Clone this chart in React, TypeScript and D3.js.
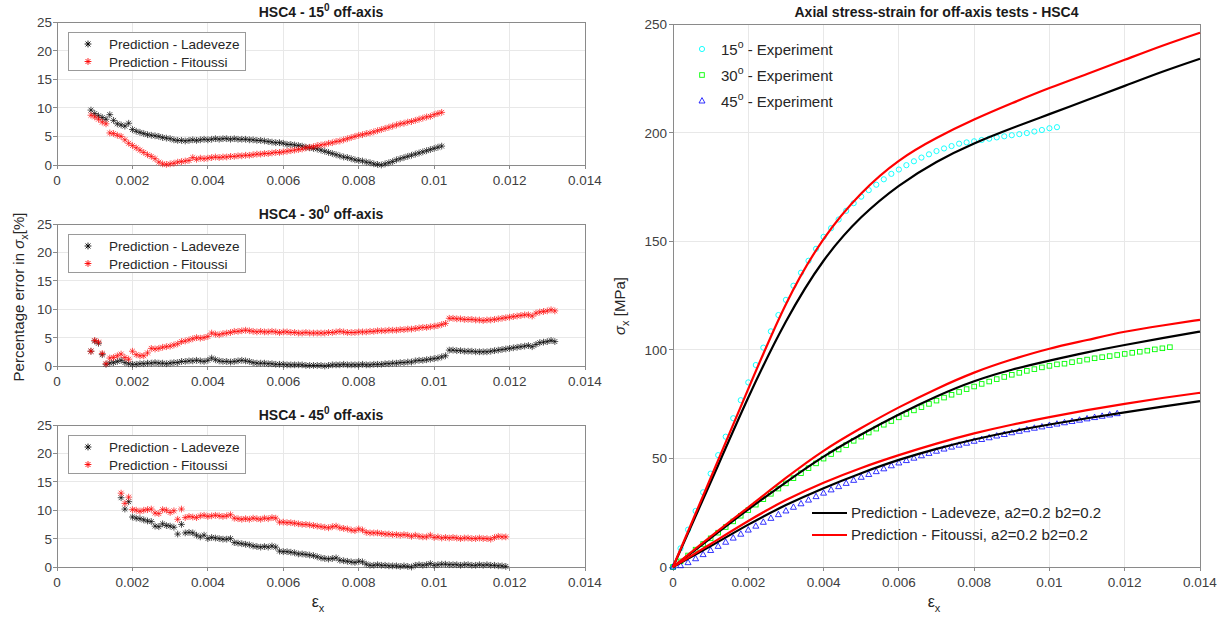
import React from 'react';
import * as d3 from 'd3';

const FONT = "'Liberation Sans', Arial, Helvetica, sans-serif";

// ---------- Percentage-error panels (step 0.0001 in strain) ----------
const ERR_STEP = 0.0001;
const start15 = 0.0009;
const start30 = 0.0009;
const start45 = 0.0017;

const lad15 = [9.6,9.0,8.6,8.3,8.0,8.8,7.8,7.2,7.0,6.8,
 7.3,6.2,5.9,5.7,5.5,5.3,5.2,5.1,5.0,4.8,
 4.7,4.6,4.4,4.3,4.3,4.2,4.3,4.4,4.3,4.4,
 4.5,4.4,4.5,4.6,4.5,4.6,4.6,4.5,4.6,4.5,
 4.5,4.5,4.4,4.4,4.3,4.3,4.2,4.1,4.0,3.9,
 3.9,3.8,3.6,3.6,3.5,3.4,3.3,3.1,3.0,2.9,
 2.8,2.6,2.4,2.2,2.0,1.8,1.6,1.4,1.3,1.1,
 0.9,0.8,0.7,0.5,0.4,0.2,0.1,0.0,0.2,0.4,
 0.6,0.9,1.1,1.3,1.5,1.7,1.9,2.1,2.3,2.5,
 2.7,2.9,3.1,3.3];
const fit15 = [8.7,8.4,8.0,7.5,7.2,5.6,5.5,5.2,5.0,4.4,
 3.8,3.4,3.0,2.6,2.2,1.8,1.5,1.1,0.5,0.2,
 0.1,0.2,0.3,0.5,0.6,0.7,0.8,1.3,1.0,1.2,
 1.1,1.2,1.3,1.4,1.3,1.4,1.4,1.5,1.5,1.6,
 1.6,1.7,1.7,1.8,1.9,1.9,2.0,2.0,2.1,2.2,
 2.2,2.3,2.4,2.5,2.6,2.7,2.8,3.0,3.1,3.2,
 3.4,3.5,3.6,3.8,3.9,4.1,4.2,4.4,4.6,4.8,
 5.0,5.2,5.3,5.5,5.6,5.8,6.0,6.2,6.4,6.6,
 6.8,7.0,7.2,7.3,7.5,7.6,7.8,8.0,8.2,8.4,
 8.5,8.8,9.0,9.2];
const lad30 = [2.6,4.4,4.0,2.0,0.3,0.5,0.6,0.8,1.0,0.6,
 0.4,0.3,0.3,0.4,0.4,0.5,0.5,0.6,0.5,0.5,
 0.4,0.5,0.6,0.6,0.8,0.8,0.9,0.9,1.0,0.9,
 0.8,1.0,1.4,1.1,0.9,0.8,0.8,0.7,0.8,0.9,
 1.0,0.9,0.8,0.6,0.5,0.5,0.5,0.4,0.4,0.3,
 0.3,0.3,0.2,0.2,0.2,0.2,0.2,0.1,0.1,0.1,
 0.1,0.1,0.0,0.1,0.2,0.2,0.2,0.3,0.2,0.2,
 0.2,0.2,0.3,0.2,0.2,0.3,0.3,0.3,0.4,0.4,
 0.5,0.5,0.6,0.6,0.7,0.7,0.9,1.0,1.0,1.1,
 1.2,1.3,1.4,1.6,1.8,2.8,2.8,2.7,2.7,2.6,
 2.6,2.6,2.5,2.5,2.5,2.5,2.6,2.7,2.8,2.9,
 3.0,3.1,3.2,3.3,3.4,3.5,3.6,3.4,3.8,4.1,
 4.2,4.3,4.5,4.3];
const fit30 = [2.6,4.5,4.2,2.2,0.4,1.4,1.5,1.8,2.1,1.5,
 1.2,2.6,2.0,1.8,1.8,2.3,3.1,3.0,3.1,3.3,
 3.4,3.5,3.7,3.9,4.3,4.4,4.6,4.8,5.0,4.9,
 5.0,5.2,5.8,5.6,5.5,5.7,5.8,5.9,6.1,6.1,
 6.2,6.3,6.2,6.1,6.0,6.1,6.0,6.0,6.1,6.0,
 5.9,6.0,6.0,5.9,5.9,5.8,5.8,5.9,5.8,5.8,
 5.8,5.8,5.8,5.9,5.9,6.0,6.1,6.0,5.9,5.9,
 5.9,6.0,6.0,6.0,6.1,6.1,6.2,6.2,6.2,6.3,
 6.3,6.3,6.4,6.4,6.5,6.5,6.6,6.7,6.8,6.8,
 6.9,7.0,7.1,7.3,7.5,8.4,8.4,8.3,8.3,8.2,
 8.2,8.2,8.1,8.1,8.0,8.1,8.1,8.2,8.3,8.4,
 8.5,8.6,8.7,8.8,8.9,9.0,9.0,8.8,9.3,9.5,
 9.6,9.7,9.9,9.7];
const lad45 = [12.2,10.2,11.5,8.8,8.6,8.5,8.3,8.1,8.0,7.2,
 7.1,7.6,7.3,7.2,7.0,5.8,7.5,6.0,6.1,6.0,
 5.6,5.3,5.6,5.0,5.2,5.1,5.0,4.9,4.9,5.0,
 4.3,4.2,4.1,4.0,3.9,3.7,3.6,3.5,3.6,3.5,
 3.7,3.5,2.8,2.7,2.7,2.6,2.5,2.3,2.3,2.2,
 2.1,2.0,1.8,1.6,1.5,1.4,1.5,1.6,1.2,1.1,
 1.0,0.9,0.8,1.0,0.9,0.5,0.3,0.3,0.4,0.3,
 0.3,0.2,0.2,0.2,0.1,0.2,0.1,0.0,0.3,0.4,
 0.3,0.4,0.6,0.3,0.4,0.5,0.5,0.4,0.4,0.4,
 0.3,0.4,0.4,0.3,0.3,0.4,0.3,0.4,0.3,0.3,
 0.2,0.2,0.1];
const fit45 = [13.0,11.2,12.3,10.1,10.0,9.8,10.0,10.1,10.2,9.5,
 9.4,10.1,10.0,9.6,9.9,8.4,10.2,8.7,8.9,8.8,
 8.7,9.0,9.1,8.9,9.0,9.1,9.0,8.9,9.0,9.2,
 8.6,8.5,8.4,8.5,8.4,8.6,8.5,8.4,8.6,8.5,
 8.7,8.6,7.9,7.9,7.8,7.8,7.7,7.6,7.5,7.5,
 7.4,7.3,7.2,7.1,7.0,6.9,7.1,7.2,6.9,6.8,
 6.7,6.5,6.4,6.7,6.5,6.1,6.0,6.0,6.0,5.9,
 5.8,5.8,5.7,5.7,5.6,5.7,5.6,5.4,5.6,5.4,
 5.3,5.3,5.6,5.2,5.3,5.1,5.2,5.1,5.2,5.1,
 5.0,5.1,5.1,5.0,5.0,5.1,5.0,5.0,4.9,5.2,
 5.4,5.3,5.3];

// ---------- Stress-strain panel ----------
const EXP_STEP = 0.0002;
const exp15 = [0,8.6,17.2,25.8,34.4,43,51.5,60,68.5,76.8,
 85,93,101,108.5,116,123,129.5,135.5,141,146.5,
 152,156,160,164,167.5,170.5,173.5,176,178.5,181,
 183,185,186.8,188.5,190,191.5,192.7,193.8,194.9,195.5,
 196,196.6,197.2,197.8,198.3,198.8,199.3,199.8,200.5,201.2,
 202,202.5];
const exp30 = [0,2.6,5.3,8,10.6,13.2,15.8,18.4,21,23.6,
 26.2,28.7,31.2,33.7,36.1,38.5,40.9,43.2,45.5,47.7,
 49.9,52,54.1,56.1,58.1,60,61.9,63.7,65.5,67.2,
 68.9,70.5,72.1,73.6,75.1,76.6,78,79.3,80.6,81.9,
 83.1,84.3,85.4,86.5,87.5,88.5,89.4,90.3,91.1,91.9,
 92.6,93.3,93.6,94.3,94.9,95.5,96.1,96.6,97.1,97.6,
 98.1,98.6,99.1,99.6,100.2,100.7,101.2];
const exp45 = [0,0.6,2.0,3.8,5.7,7.6,9.5,11.4,13.3,15.1,
 17.0,18.8,20.6,22.4,24.1,25.8,27.5,29.1,30.8,32.4,
 34.0,35.5,37.0,38.5,39.9,41.3,42.6,43.9,45.2,46.6,
 47.9,49.0,50.1,51.2,52.3,53.3,54.3,55.2,56.1,57.0,
 57.9,58.7,59.5,60.3,61.0,61.8,62.5,63.2,63.9,64.5,
 65.2,65.8,66.4,67.0,67.6,68.2,68.8,69.4,70.0,70.6];

const predStrain = [0,0.001,0.002,0.003,0.004,0.005,0.006,0.007,0.008,0.009,0.010,0.011,0.012,0.013,0.014];
const ladCurve15 = [0,39,78,113,141,161,175.5,186.5,195,202,208.5,215,221.5,228,234];
const fitCurve15 = [0,41,82,121,151,172,187,197.5,206,213.5,220.5,227,233.5,240,246];
const ladCurve30 = [0,13.3,26.5,39,50.8,61,70.2,78.5,85.5,90.8,95,98.8,102.2,105.4,108.4];
const fitCurve30 = [0,14,27.5,41,53.5,64,73.5,82,89.5,95.5,100.5,104.5,108.3,111.2,113.8];
const ladCurve45 = [0,9.6,19.5,28.5,36.3,43.2,49.3,54.4,58.7,62.4,65.6,68.5,71.2,73.8,76.4];
const fitCurve45 = [0,10.6,21.2,30.8,38.8,45.6,51.5,56.8,61.5,65.5,69.0,72.2,75.1,77.8,80.2];

// ---------- Ticks ----------
const strainTicks = [0,0.002,0.004,0.006,0.008,0.010,0.012,0.014];
const strainTickLabels = ['0','0.002','0.004','0.006','0.008','0.01','0.012','0.014'];
const errTicks = [0,5,10,15,20,25];
const stressTicks = [0,50,100,150,200,250];

const errLegend = ['Prediction - Ladeveze','Prediction - Fitoussi'];
const expLegendAngles = ['15','30','45'];
const predLegend = ['Prediction - Ladeveze, a2=0.2 b2=0.2','Prediction - Fitoussi, a2=0.2 b2=0.2'];

// ---------- Styling ----------
const AXIS = '#8a8a8a';
const GRID = '#e8e8e8';
const TXT = '#404040';
const L_LEFT = 57, L_RIGHT = 585;
const R_LEFT = 673, R_RIGHT = 1200, R_TOP = 24, R_BOTTOM = 567;

function asterisk(s: number) {
  const d = s * 0.72;
  return `M${-s},0L${s},0M0,${-s}L0,${s}M${-d},${-d}L${d},${d}M${-d},${d}L${d},${-d}`;
}

function ErrorPanel({ angle, top, bottom, start, lad, fit }:
  { angle: string; top: number; bottom: number; start: number; lad: number[]; fit: number[] }) {
  const x = d3.scaleLinear().domain([0, 0.014]).range([L_LEFT, L_RIGHT]);
  const y = d3.scaleLinear().domain([0, 25]).range([bottom, top]);
  const xsL = d3.range(lad.length).map(i => start + i * ERR_STEP);
  const xsF = d3.range(fit.length).map(i => start + i * ERR_STEP);
  const star = asterisk(3.4);
  const cx = (L_LEFT + L_RIGHT) / 2;
  return (
    <g>
      {strainTicks.map(t => (
        <line key={'gx' + t} x1={x(t)} x2={x(t)} y1={top} y2={bottom} stroke={GRID} shapeRendering="crispEdges" />
      ))}
      {errTicks.map(t => (
        <line key={'gy' + t} x1={L_LEFT} x2={L_RIGHT} y1={y(t)} y2={y(t)} stroke={GRID} shapeRendering="crispEdges" />
      ))}
      <rect x={L_LEFT} y={top} width={L_RIGHT - L_LEFT} height={bottom - top} fill="none" stroke={AXIS} shapeRendering="crispEdges" />
      {strainTicks.map((t, i) => (
        <g key={'tx' + t}>
          <line x1={x(t)} x2={x(t)} y1={bottom} y2={bottom + 4} stroke={AXIS} shapeRendering="crispEdges" />
          <text x={x(t)} y={bottom + 20} textAnchor="middle" fontSize={13.5} fill={TXT}>{strainTickLabels[i]}</text>
        </g>
      ))}
      {errTicks.map(t => (
        <g key={'ty' + t}>
          <line x1={L_LEFT - 4} x2={L_LEFT} y1={y(t)} y2={y(t)} stroke={AXIS} shapeRendering="crispEdges" />
          <text x={L_LEFT - 5} y={y(t) + 5} textAnchor="end" fontSize={13.5} fill={TXT}>{t}</text>
        </g>
      ))}
      <text x={cx} y={top - 5} textAnchor="middle" fontSize={14} fontWeight="bold" fill="#1a1a1a">
        HSC4 - {angle}<tspan dy={-6} fontSize={10}>0</tspan><tspan dy={6}> off-axis</tspan>
      </text>
      <g>
        {lad.map((v, i) => (
          <path key={'l' + i} d={star} transform={`translate(${x(xsL[i])},${y(v)})`} stroke="#000" strokeOpacity={0.75} strokeWidth={0.9} fill="none" />
        ))}
        {fit.map((v, i) => (
          <path key={'f' + i} d={star} transform={`translate(${x(xsF[i])},${y(v)})`} stroke="#ff0000" strokeOpacity={0.75} strokeWidth={0.9} fill="none" />
        ))}
      </g>
      <g>
        <rect x={68} y={top + 10.5} width={177} height={38} fill="#fff" stroke="#9a9a9a" shapeRendering="crispEdges" />
        {errLegend.map((lab, i) => (
          <g key={lab}>
            <path d={star} transform={`translate(88,${top + 22 + i * 17.5})`} stroke={i === 0 ? '#000' : '#ff0000'} strokeWidth={0.9} fill="none" />
            <text x={109} y={top + 27 + i * 17.5} fontSize={13.5} fill="#262626">{lab}</text>
          </g>
        ))}
      </g>
    </g>
  );
}

function StressPanel() {
  const x = d3.scaleLinear().domain([0, 0.014]).range([R_LEFT, R_RIGHT]);
  const y = d3.scaleLinear().domain([0, 250]).range([R_BOTTOM, R_TOP]);
  const line = d3.line<number>().x((_, i) => x(predStrain[i])).y(v => y(v)).curve(d3.curveNatural);
  const expX = (i: number) => x(i * EXP_STEP);
  const tri = 'M0,-3.4L3,2L-3,2Z';
  const cx = (R_LEFT + R_RIGHT) / 2;
  return (
    <g>
      {strainTicks.map(t => (
        <line key={'gx' + t} x1={x(t)} x2={x(t)} y1={R_TOP} y2={R_BOTTOM} stroke={GRID} shapeRendering="crispEdges" />
      ))}
      {stressTicks.map(t => (
        <line key={'gy' + t} x1={R_LEFT} x2={R_RIGHT} y1={y(t)} y2={y(t)} stroke={GRID} shapeRendering="crispEdges" />
      ))}
      <rect x={R_LEFT} y={R_TOP} width={R_RIGHT - R_LEFT} height={R_BOTTOM - R_TOP} fill="none" stroke={AXIS} shapeRendering="crispEdges" />
      {strainTicks.map((t, i) => (
        <g key={'tx' + t}>
          <line x1={x(t)} x2={x(t)} y1={R_BOTTOM} y2={R_BOTTOM + 4} stroke={AXIS} shapeRendering="crispEdges" />
          <text x={x(t)} y={R_BOTTOM + 20} textAnchor="middle" fontSize={13.5} fill={TXT}>{strainTickLabels[i]}</text>
        </g>
      ))}
      {stressTicks.map(t => (
        <g key={'ty' + t}>
          <line x1={R_LEFT - 4} x2={R_LEFT} y1={y(t)} y2={y(t)} stroke={AXIS} shapeRendering="crispEdges" />
          <text x={R_LEFT - 6} y={y(t) + 5} textAnchor="end" fontSize={13.5} fill={TXT}>{t}</text>
        </g>
      ))}
      <text x={cx} y={17} textAnchor="middle" fontSize={14} fontWeight="bold" fill="#1a1a1a">
        Axial stress-strain for off-axis tests - HSC4
      </text>
      {exp15.map((v, i) => (
        <circle key={'c' + i} cx={expX(i)} cy={y(v)} r={2.6} fill="none" stroke="#00ffff" strokeWidth={0.9} />
      ))}
      {exp30.map((v, i) => (
        <rect key={'s' + i} x={expX(i) - 2.3} y={y(v) - 2.3} width={4.6} height={4.6} fill="none" stroke="#00ff00" strokeWidth={0.9} />
      ))}
      {exp45.map((v, i) => (
        <path key={'t' + i} d={tri} transform={`translate(${expX(i)},${y(v)})`} fill="none" stroke="#0000ff" strokeWidth={0.8} />
      ))}
      {[ladCurve15, ladCurve30, ladCurve45].map((c, k) => (
        <path key={'lc' + k} d={line(c) || ''} fill="none" stroke="#000" strokeWidth={2.2} />
      ))}
      {[fitCurve15, fitCurve30, fitCurve45].map((c, k) => (
        <path key={'fc' + k} d={line(c) || ''} fill="none" stroke="#ff0000" strokeWidth={2.2} />
      ))}
      {expLegendAngles.map((a, i) => {
        const yy = 50 + i * 26;
        return (
          <g key={'el' + a}>
            {i === 0 && <circle cx={702} cy={yy - 1} r={2.6} fill="none" stroke="#00ffff" strokeWidth={0.9} />}
            {i === 1 && <rect x={699.7} y={yy - 3.3} width={4.6} height={4.6} fill="none" stroke="#00ff00" strokeWidth={0.9} />}
            {i === 2 && <path d={tri} transform={`translate(702,${yy - 1})`} fill="none" stroke="#0000ff" strokeWidth={0.8} />}
            <text x={721} y={yy + 5} fontSize={15} fill="#262626">
              {a}<tspan dy={-7} fontSize={10.5}>o</tspan><tspan dy={7}> - Experiment</tspan>
            </text>
          </g>
        );
      })}
      {predLegend.map((lab, i) => {
        const yy = 513 + i * 22;
        return (
          <g key={lab}>
            <line x1={812} x2={847} y1={yy} y2={yy} stroke={i === 0 ? '#000' : '#ff0000'} strokeWidth={2.2} />
            <text x={851} y={yy + 5} fontSize={15} fill="#262626">{lab}</text>
          </g>
        );
      })}
    </g>
  );
}

export default function App() {
  return (
    <svg width={1227} height={620} style={{ position: 'absolute', left: 0, top: 0, background: '#fff' }} fontFamily={FONT}>
      <rect x={0} y={0} width={1227} height={620} fill="#fff" />
      <ErrorPanel angle="15" top={22} bottom={165} start={start15} lad={lad15} fit={fit15} />
      <ErrorPanel angle="30" top={224} bottom={366} start={start30} lad={lad30} fit={fit30} />
      <ErrorPanel angle="45" top={425} bottom={567} start={start45} lad={lad45} fit={fit45} />
      <StressPanel />
      <text transform="translate(24,297) rotate(-90)" textAnchor="middle" fontSize={15} fill="#262626">
        Percentage error in <tspan fontStyle="italic">σ</tspan><tspan dy={4} fontSize={11}>x</tspan><tspan dy={-4}>[%]</tspan>
      </text>
      <text transform="translate(625,306) rotate(-90)" textAnchor="middle" fontSize={15} fill="#262626">
        <tspan fontStyle="italic">σ</tspan><tspan dy={4} fontSize={11}>x</tspan><tspan dy={-4}> [MPa]</tspan>
      </text>
      <text x={318} y={607} textAnchor="middle" fontSize={16} fill="#262626">
        ε<tspan dy={5} fontSize={11}>x</tspan>
      </text>
      <text x={934} y={607} textAnchor="middle" fontSize={16} fill="#262626">
        ε<tspan dy={5} fontSize={11}>x</tspan>
      </text>
    </svg>
  );
}
